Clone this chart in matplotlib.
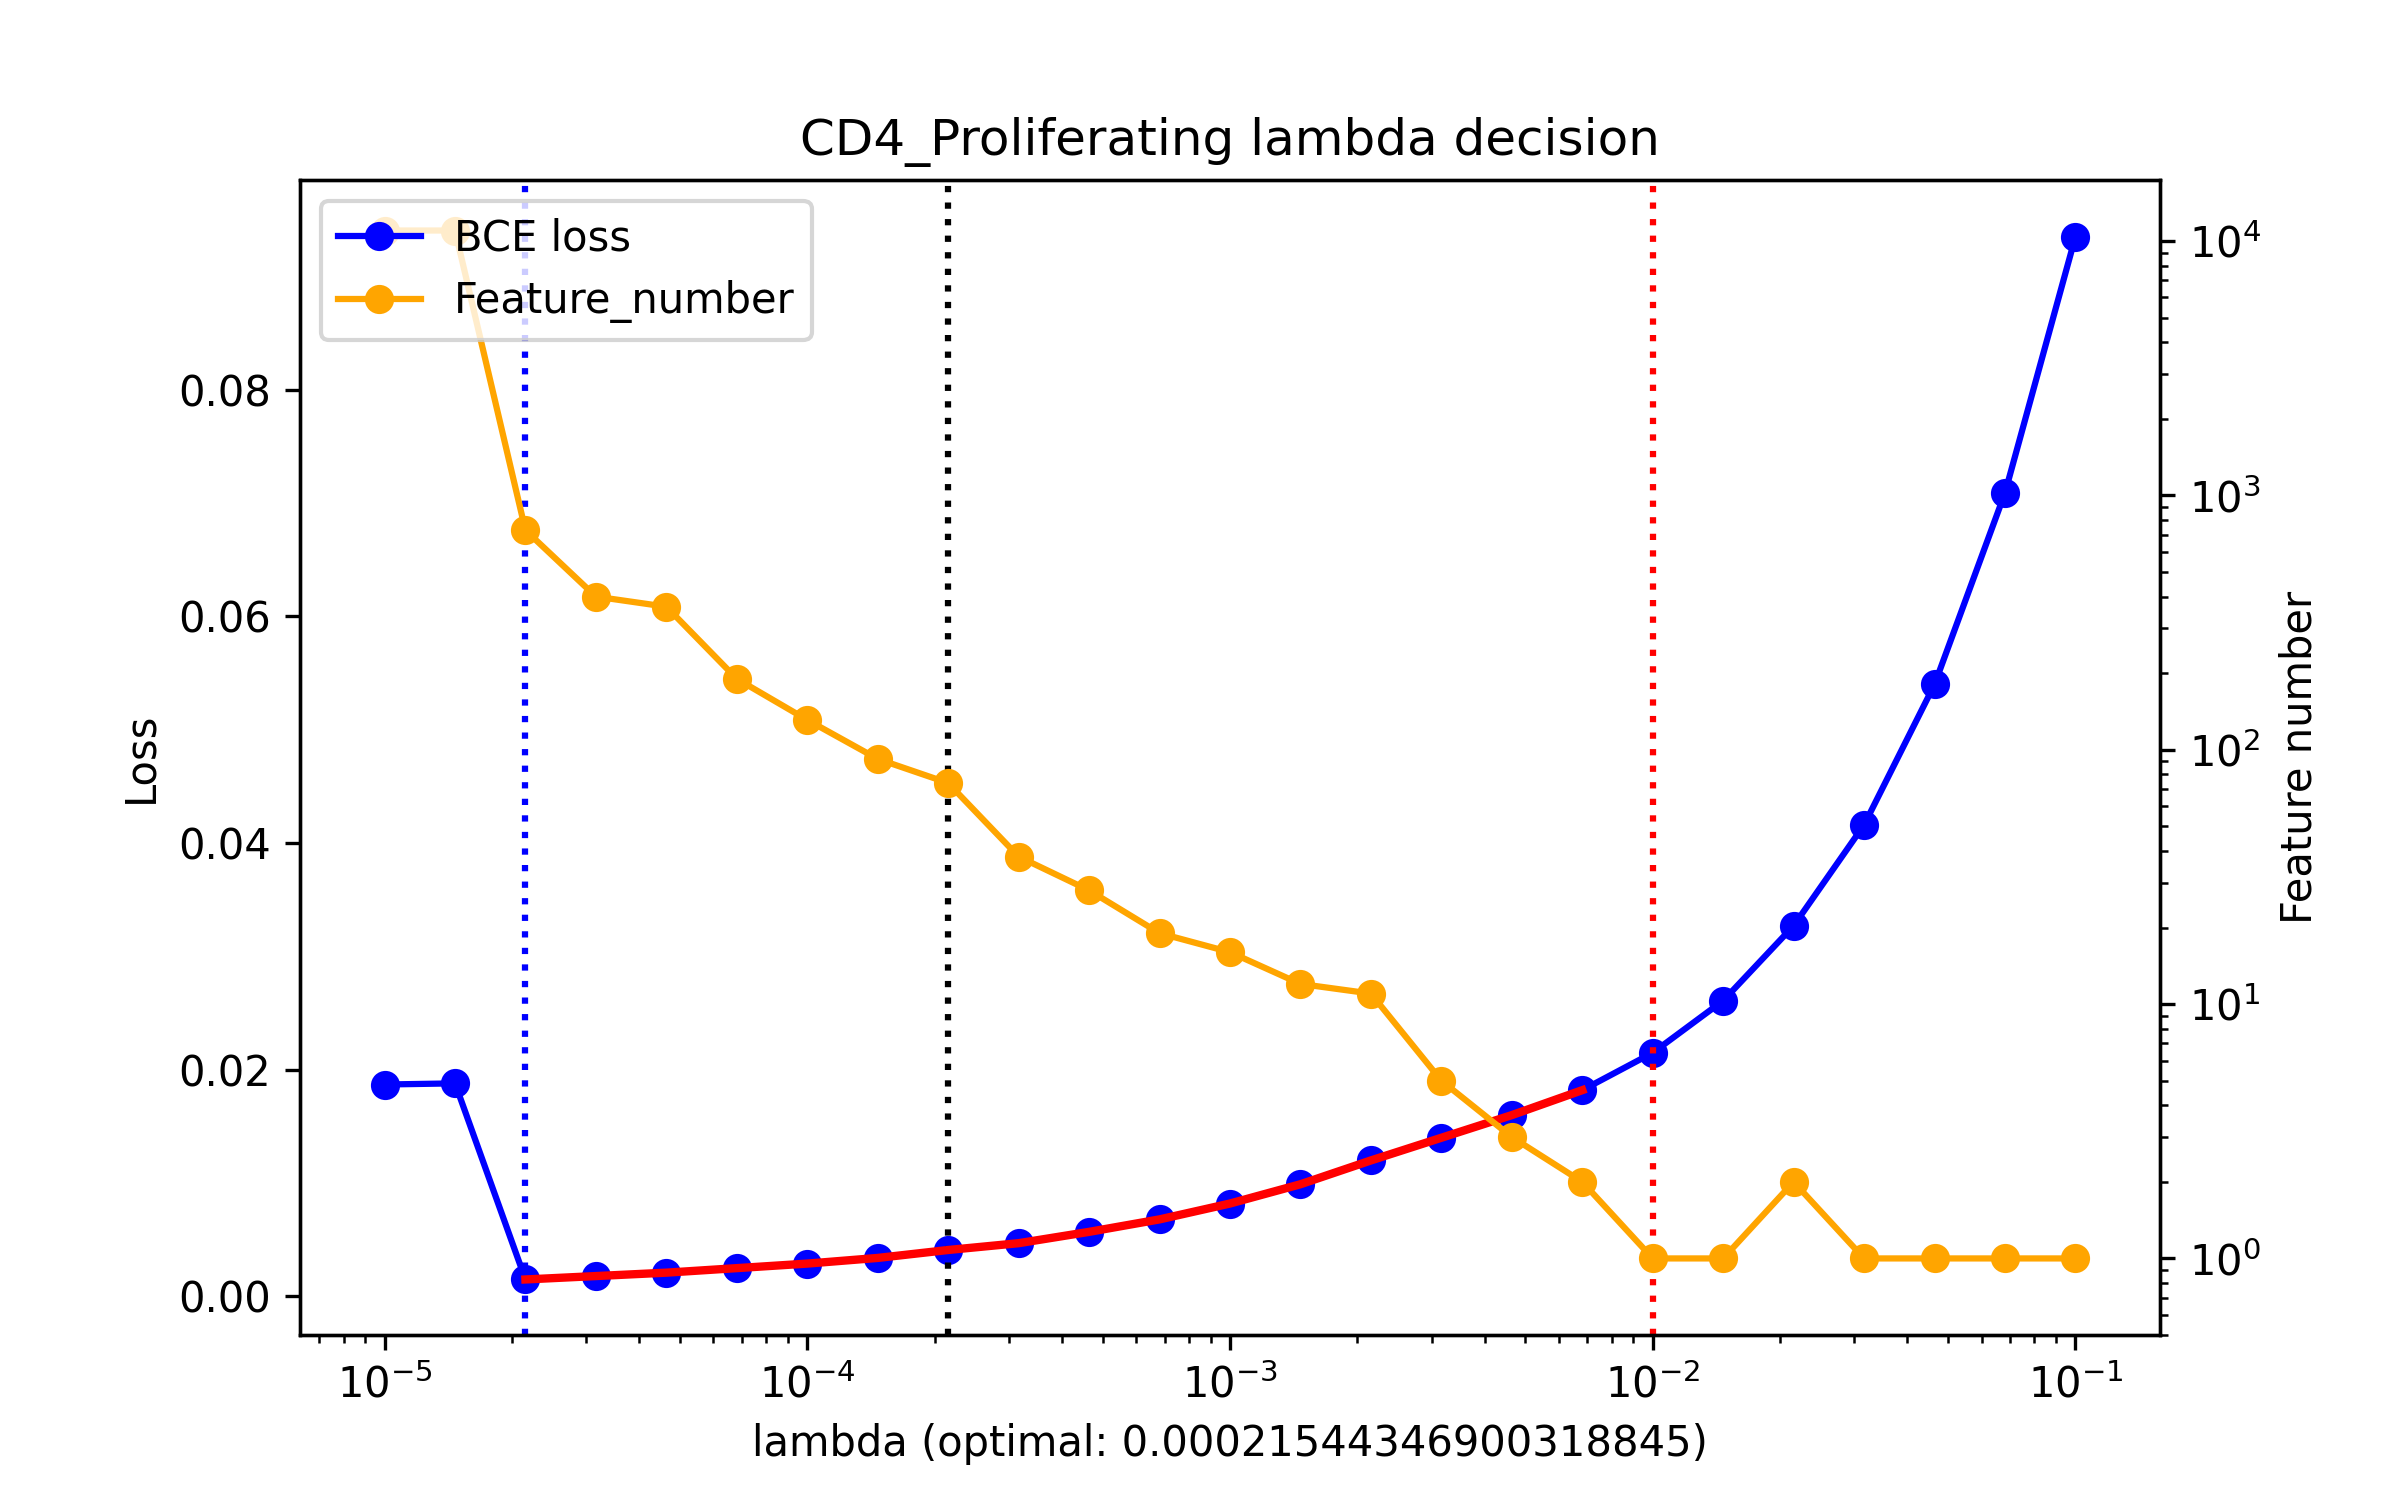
import numpy as np
import matplotlib.pyplot as plt

lambdas = [1.0e-05, 1.468e-05, 2.154e-05, 3.162e-05, 4.642e-05, 6.813e-05, 1.0e-04,
           1.468e-04, 2.154e-04, 3.162e-04, 4.642e-04, 6.813e-04, 1.0e-03, 1.468e-03,
           2.154e-03, 3.162e-03, 4.642e-03, 6.813e-03, 1.0e-02, 1.468e-02, 2.154e-02,
           3.162e-02, 4.642e-02, 6.813e-02, 1.0e-01]
loss = [0.0187, 0.0188, 0.0015, 0.0018, 0.0021, 0.0025, 0.0029, 0.0034, 0.0041,
        0.0047, 0.0057, 0.0068, 0.0082, 0.0099, 0.0120, 0.0140, 0.0160, 0.0182,
        0.0215, 0.0261, 0.0327, 0.0416, 0.0540, 0.0709, 0.0935]
features = [11000, 11000, 730, 400, 365, 190, 131, 92, 74, 38, 28, 19, 16, 12, 11,
            5, 3, 2, 1, 1, 2, 1, 1, 1, 1]
fit_start, fit_end = 2, 17
optimal = 0.00021544346900318845

fig, ax = plt.subplots(figsize=(8, 5), dpi=300)
ax2 = ax.twinx()
l1, = ax.plot(lambdas, loss, 'o-', color='blue', label='BCE loss')
l2, = ax2.plot(lambdas, features, 'o-', color='orange', label='Feature_number')
ax.plot(lambdas[fit_start:fit_end + 1], loss[fit_start:fit_end + 1], color='red', lw=2, zorder=5)
ax.set_xscale('log')
ax2.set_yscale('log')
ax.axvline(lambdas[fit_start], color='blue', ls=':')
ax.axvline(optimal, color='black', ls=':')
ax.axvline(1e-2, color='red', ls=':')
ax.set_ylim(-0.0034, 0.0985)
ax2.set_ylim(0.5, 10 ** 4.24)
ax.set_xlabel(f'lambda (optimal: {optimal})')
ax.set_ylabel('Loss')
ax2.set_ylabel('Feature number')
ax.set_title('CD4_Proliferating lambda decision')
ax2.legend(handles=[l1, l2], loc='upper left')
fig.savefig('out.png')
